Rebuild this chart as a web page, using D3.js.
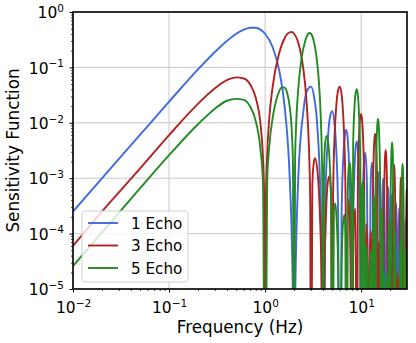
<!DOCTYPE html>
<html lang="en">
<head>
  <meta charset="UTF-8">
  <title>Sensitivity Function</title>
  <script src="https://d3js.org/d3.v7.min.js"></script>
  <style>
    body { margin: 0; background: #fff; }
    text { font-family: "DejaVu Sans", sans-serif; fill: #000; }
  </style>
</head>
<body>
  <div id="chart"></div>
  <script>

    // values (Z = null, below the axis)
    const Z = 1e-9;

    const seriesNames = ['1 Echo', '3 Echo', '5 Echo'];
    const seriesColors = ['#4169e1', '#b22222', '#228b22'];

    const freq1 = [0.01, 0.02, 0.05, 0.1, 0.2, 0.3, 0.4, 0.5, 0.6, 0.7, 0.8, 0.9, 1.0, 1.2, 1.4, 1.6, 1.8, 1.9, 1.95, 2.0,
      2.05, 2.2, 2.5, 2.75, 3.0, 3.25, 3.5, 3.8, 3.95, 4.0,
      4.25, 4.5, 4.75, 5, 5.25, 5.5, 5.75, 6,
      6.25, 6.5, 6.75, 7, 7.25, 7.5, 7.75, 8,
      8.25, 8.5, 8.75, 9, 9.25, 9.5, 9.75, 10,
      10.5, 10.75, 11, 11.25, 11.5, 12,
      12.5, 12.75, 13, 13.25, 13.5, 14,
      14.5, 14.75, 15, 15.25, 15.5, 16,
      16.5, 16.75, 17, 17.25, 17.5, 18,
      18.5, 18.75, 19, 19.25, 19.5, 20,
      20.5, 20.75, 21, 21.25, 21.5, 22,
      22.5, 22.75, 23, 23.25, 23.5, 24,
      24.5, 24.75, 25, 25.25, 25.5, 26,
      26.5, 26.75, 27, 27.25, 27.5, 28,
      28.5, 28.75, 29, 29.25, 29.5, 30];
    const sens1 = [2.5e-4, 9.9e-4, 6.1e-3, 0.024, 0.092, 0.19, 0.30, 0.405, 0.48, 0.52, 0.52, 0.475, 0.405, 0.23, 0.089, 0.019, 1.1e-3, 6.7e-5, 4e-6, Z,
      3.7e-6, 7.6e-4, 0.016, 0.039, 0.045, 0.028, 0.0083, 2.6e-4, 1e-6, Z,
      4.8e-4, 5.0e-3, 0.0131, 0.0162, 0.0107, 3.35e-3, 2.6e-4, Z,
      2e-4, 2.2e-3, 5.8e-3, 7.5e-3, 5.0e-3, 1.6e-3, 1.3e-4, Z,
      1.2e-4, 1.3e-3, 3.55e-3, 4.6e-3, 3.2e-3, 1.0e-3, 8.4e-5, Z,
      7.8e-4, 2.2e-3, 2.85e-3, 2.0e-3, 6.5e-4, Z,
      5.2e-4, 1.45e-3, 1.9e-3, 1.35e-3, 4.5e-4, Z,
      3.5e-4, 9.8e-4, 1.3e-3, 9.1e-4, 3.0e-4, Z,
      2.6e-4, 7.4e-4, 9.8e-4, 6.9e-4, 2.3e-4, Z,
      1.8e-4, 5.2e-4, 7e-4, 5e-4, 1.7e-4, Z,
      1.3e-4, 3.8e-4, 5.1e-4, 3.6e-4, 1.2e-4, Z,
      9.4e-5, 2.7e-4, 3.6e-4, 2.6e-4, 8.5e-5, Z,
      7.5e-5, 2.1e-4, 2.9e-4, 2.0e-4, 6.9e-5, Z,
      5.8e-5, 1.6e-4, 2.2e-4, 1.6e-4, 5.4e-5, Z,
      4.6e-5, 1.3e-4, 1.8e-4, 1.3e-4, 4.3e-5, Z];

    const freq3 = [0.01, 0.02, 0.05, 0.1, 0.2, 0.3, 0.4, 0.5, 0.6, 0.7, 0.8, 0.9, 0.95, 0.98, 1.0,
      1.02, 1.05, 1.1, 1.2, 1.4, 1.6, 1.8, 1.9, 2.0, 2.2, 2.4, 2.6, 2.8, 2.9, 2.95, 3.0,
      3.1, 3.2, 3.3, 3.5, 3.7, 3.85, 4.0,
      4.15, 4.3, 4.5, 4.7, 4.85, 5.0,
      5.1, 5.3, 5.5, 5.75, 6.0, 6.25, 6.5, 6.7, 6.9, 7.0,
      7.25, 7.5, 7.75, 8,
      8.25, 8.5, 8.75, 9,
      9.25, 9.5, 9.75, 10, 10.25, 10.5, 10.75, 11,
      11.25, 11.5, 11.75, 12,
      12.25, 12.5, 12.75, 13,
      13.25, 13.5, 13.75, 14, 14.25, 14.5, 14.75, 15,
      15.25, 15.5, 15.75, 16,
      16.25, 16.5, 16.75, 17,
      17.25, 17.5, 17.75, 18, 18.25, 18.5, 18.75, 19,
      19.25, 19.5, 19.75, 20,
      20.25, 20.5, 20.75, 21,
      21.25, 21.5, 21.75, 22, 22.25, 22.5, 22.75, 23,
      23.25, 23.5, 23.75, 24,
      24.25, 24.5, 24.75, 25,
      25.25, 25.5, 25.75, 26, 26.25, 26.5, 26.75, 27,
      27.25, 27.5, 27.75, 28,
      28.25, 28.5, 28.75, 29,
      29.25, 29.5, 29.75, 30];
    const sens3 = [6.0e-5, 2.5e-4, 1.5e-3, 6.0e-3, 0.022, 0.042, 0.059, 0.066, 0.063, 0.049, 0.028, 0.0086, 0.0023, 3.9e-4, Z,
      4.1e-4, 2.6e-3, 0.011, 0.046, 0.18, 0.34, 0.43, 0.435, 0.405, 0.29, 0.15, 0.052, 0.0085, 0.0016, 3.3e-4, Z,
      7.3e-4, 1.8e-3, 2.3e-3, 1.4e-3, 2.8e-4, 2.0e-5, Z,
      1.7e-5, 2.1e-4, 8.6e-4, 1.1e-3, 5.5e-4, Z,
      5.1e-4, 6.3e-3, 0.0195, 0.0387, 0.045, 0.0328, 0.014, 3.9e-3, 2.8e-4, Z,
      4.3e-4, 3.1e-4, 3.3e-5, Z,
      2.8e-5, 2.3e-4, 2.8e-4, Z,
      1.2e-3, 5.7e-3, 0.0119, 0.0143, 0.0107, 4.7e-3, 8.7e-4, Z,
      1.5e-4, 1.1e-4, 1.2e-5, Z,
      1.1e-5, 9e-5, 1.1e-4, Z,
      4.9e-4, 2.4e-3, 5.2e-3, 6.3e-3, 4.8e-3, 2.1e-3, 4.0e-4, Z,
      7e-5, 5.2e-5, 6e-6, Z,
      5e-6, 4.3e-5, 5.5e-5, Z,
      2.4e-4, 1.2e-3, 2.6e-3, 3.2e-3, 2.5e-3, 1.1e-3, 2.1e-4, Z,
      3.7e-5, 2.8e-5, 3e-6, Z,
      2.8e-6, 2.3e-5, 3.0e-5, Z,
      1.3e-4, 6.7e-4, 1.4e-3, 1.75e-3, 1.35e-3, 6.1e-4, 1.1e-4, Z,
      2.1e-5, 1.5e-5, 2e-6, Z,
      1.6e-6, 1.3e-5, 1.7e-5, Z,
      7.7e-5, 3.9e-4, 8.3e-4, 1.03e-3, 8.0e-4, 3.6e-4, 6.9e-5, Z,
      1.25e-5, 9.4e-6, 1e-6, Z,
      1e-6, 8.4e-6, 1.1e-5, Z,
      5e-5, 2.6e-4, 5.5e-4, 6.7e-4];

    const freq5 = [0.01, 0.02, 0.05, 0.1, 0.2, 0.3, 0.4, 0.5, 0.6, 0.7, 0.8, 0.9, 0.95, 1.0,
      1.05, 1.1, 1.2, 1.3, 1.4, 1.5, 1.6, 1.7, 1.8, 1.9, 1.95, 2.0,
      2.05, 2.1, 2.2, 2.4, 2.6, 2.8, 2.9, 3.0, 3.2, 3.4, 3.6, 3.8, 3.9, 3.95, 4.0,
      4.1, 4.25, 4.4, 4.6, 4.8, 4.9, 5.0,
      5.2, 5.35, 5.5, 5.75, 6.0,
      6.25, 6.5, 6.7, 6.85, 7.0,
      7.25, 7.5, 7.65, 7.8, 7.9, 8.0,
      8.25, 8.5, 8.75, 9, 9.25, 9.5, 9.75, 10,
      10.25, 10.45, 10.7, 11,
      11.25, 11.4, 11.7, 12,
      12.3, 12.6, 12.75, 13,
      13.3, 13.55, 13.75, 14,
      14.25, 14.5, 14.75, 15, 15.25, 15.5, 15.75, 16,
      16.25, 16.45, 16.7, 17,
      17.25, 17.4, 17.7, 18,
      18.3, 18.6, 18.75, 19,
      19.3, 19.55, 19.75, 20,
      20.25, 20.5, 20.75, 21, 21.25, 21.5, 21.75, 22,
      22.25, 22.45, 22.7, 23,
      23.25, 23.4, 23.7, 24,
      24.3, 24.6, 24.75, 25,
      25.3, 25.55, 25.75, 26,
      26.25, 26.5, 26.75, 27, 27.25, 27.5, 27.75, 28,
      28.25, 28.45, 28.7, 29,
      29.25, 29.4, 29.7, 30];
    const sens5 = [2.6e-5, 1.05e-4, 6.6e-4, 2.6e-3, 9.4e-3, 0.018, 0.025, 0.027, 0.026, 0.0195, 0.0106, 3.0e-3, 8e-4, Z,
      8.4e-4, 3.4e-3, 0.0125, 0.025, 0.037, 0.044, 0.043, 0.034, 0.020, 6.3e-3, 1.7e-3, Z,
      2.0e-3, 8.5e-3, 0.036, 0.15, 0.29, 0.40, 0.418, 0.405, 0.307, 0.172, 0.067, 0.0121, 2.45e-3, 5.4e-4, Z,
      1.36e-3, 4.8e-3, 5.8e-3, 3.5e-3, 8.0e-4, 1.7e-4, Z,
      2.6e-4, 3.5e-4, 2.4e-4, 2.7e-5, Z,
      2.2e-5, 1.7e-4, 2.2e-4, 1.0e-4, Z,
      5.7e-4, 1.8e-3, 1.9e-3, 1.09e-3, 3.7e-4, Z,
      3.9e-3, 0.0176, 0.0344, 0.0405, 0.0308, 0.014, 2.8e-3, Z,
      7.1e-4, 8.7e-4, 3.3e-4, Z,
      5.8e-5, 6.2e-5, 1.0e-5, Z,
      9e-6, 4.9e-5, 4.3e-5, Z,
      1.9e-4, 4.6e-4, 3.5e-4, Z,
      1.04e-3, 4.8e-3, 9.7e-3, 0.0117, 9.0e-3, 4.2e-3, 8.6e-4, Z,
      2.2e-4, 2.8e-4, 1.06e-4, Z,
      1.9e-5, 2.1e-5, 3.4e-6, Z,
      3.1e-6, 1.8e-5, 1.6e-5, Z,
      7e-5, 1.7e-4, 1.3e-4, Z,
      3.8e-4, 1.8e-3, 3.6e-3, 4.4e-3, 3.4e-3, 1.6e-3, 3.3e-4, Z,
      8.7e-5, 1.1e-4, 4.2e-5, Z,
      7.7e-6, 8.5e-6, 1.4e-6, Z,
      1.4e-6, 7.4e-6, 6.5e-6, Z,
      3e-5, 7.4e-5, 5.7e-5, Z,
      1.5e-4, 7.2e-4, 1.5e-3, 1.8e-3, 1.4e-3, 6.7e-4, 1.4e-4, Z,
      4.1e-5, 5.2e-5, 2e-5, Z,
      3.8e-6, 4.1e-6, 1e-6, Z];

    const xTicks = [0.01, 0.1, 1, 10];
    const xTickExp = ['\u22122', '\u22121', '0', '1'];
    const yTicks = [1e-5, 1e-4, 1e-3, 1e-2, 1e-1, 1];
    const yTickExp = ['\u22125', '\u22124', '\u22123', '\u22122', '\u22121', '0'];

    const width = 416, height = 343;
    const plotLeft = 73, plotRight = 407, plotTop = 12, plotBottom = 289;

    const svg = d3.select('#chart').append('svg')
      .attr('width', width)
      .attr('height', height);

    const x = d3.scaleLog().domain([0.01, 30]).range([plotLeft, plotRight]);
    const y = d3.scaleLog().domain([1e-5, 1]).range([plotBottom, plotTop]);

    // grid
    svg.append('g').selectAll('line')
      .data(xTicks)
      .enter().append('line')
      .attr('x1', d => x(d)).attr('x2', d => x(d))
      .attr('y1', plotTop).attr('y2', plotBottom)
      .attr('stroke', '#c8c8c8').attr('stroke-width', 1);
    svg.append('g').selectAll('line')
      .data(yTicks)
      .enter().append('line')
      .attr('x1', plotLeft).attr('x2', plotRight)
      .attr('y1', d => y(d)).attr('y2', d => y(d))
      .attr('stroke', '#c8c8c8').attr('stroke-width', 1);

    // curves
    svg.append('clipPath').attr('id', 'clip')
      .append('rect')
      .attr('x', plotLeft).attr('y', plotTop)
      .attr('width', plotRight - plotLeft).attr('height', plotBottom - plotTop);

    const line = d3.line()
      .x(d => x(d[0]))
      .y(d => y(d[1]))
      .curve(d3.curveMonotoneX);

    const series = [
      d3.zip(freq1, sens1),
      d3.zip(freq3, sens3),
      d3.zip(freq5, sens5)
    ];

    svg.append('g').attr('clip-path', 'url(#clip)')
      .selectAll('path')
      .data(series)
      .enter().append('path')
      .attr('d', line)
      .attr('fill', 'none')
      .attr('stroke', (d, i) => seriesColors[i])
      .attr('stroke-width', 1.9)
      .attr('stroke-linejoin', 'round');

    // minor ticks
    const xMinor = [];
    [0.01, 0.1, 1, 10].forEach(b => d3.range(2, 10).forEach(m => { if (b * m < 30) xMinor.push(b * m); }));
    const yMinor = [];
    [1e-5, 1e-4, 1e-3, 1e-2, 1e-1].forEach(b => d3.range(2, 10).forEach(m => yMinor.push(b * m)));

    svg.append('g')
      .attr('transform', `translate(0,${plotBottom})`)
      .call(d3.axisBottom(x).tickValues(xMinor).tickSize(2).tickFormat(''))
      .call(g => g.select('.domain').remove())
      .selectAll('line').attr('stroke-width', 0.7);

    svg.append('g')
      .attr('transform', `translate(${plotLeft},0)`)
      .call(d3.axisLeft(y).tickValues(yMinor).tickSize(2).tickFormat(''))
      .call(g => g.select('.domain').remove())
      .selectAll('line').attr('stroke-width', 0.7);

    // major ticks + labels
    const xAxis = svg.append('g')
      .attr('transform', `translate(0,${plotBottom})`)
      .call(d3.axisBottom(x).tickValues(xTicks).tickSize(3.5).tickFormat(''))
      .call(g => g.select('.domain').remove());
    xAxis.selectAll('line').attr('stroke-width', 1);
    xAxis.selectAll('.tick text')
      .attr('y', 24).attr('dy', null)
      .attr('font-size', 15.5)
      .attr('text-anchor', 'middle')
      .each(function (d, i) {
        const t = d3.select(this);
        t.text('10');
        t.append('tspan').attr('font-size', 10.5).attr('dy', -6.3).text(xTickExp[i]);
      });

    const yAxis = svg.append('g')
      .attr('transform', `translate(${plotLeft},0)`)
      .call(d3.axisLeft(y).tickValues(yTicks).tickSize(3.5).tickFormat(''))
      .call(g => g.select('.domain').remove());
    yAxis.selectAll('line').attr('stroke-width', 1);
    yAxis.selectAll('.tick text')
      .attr('x', -9).attr('dy', 5.6)
      .attr('font-size', 15.5)
      .attr('text-anchor', 'end')
      .each(function (d, i) {
        const t = d3.select(this);
        t.text('10');
        t.append('tspan').attr('font-size', 10.5).attr('dy', -6.3).text(yTickExp[i]);
      });

    // frame
    svg.append('rect')
      .attr('x', plotLeft).attr('y', plotTop)
      .attr('width', plotRight - plotLeft).attr('height', plotBottom - plotTop)
      .attr('fill', 'none').attr('stroke', '#000').attr('stroke-width', 1.6);

    // axis titles
    svg.append('text')
      .attr('x', (plotLeft + plotRight) / 2).attr('y', 333)
      .attr('text-anchor', 'middle')
      .attr('font-size', 16.8)
      .text('Frequency (Hz)');

    svg.append('text')
      .attr('transform', `translate(19,${(plotTop + plotBottom) / 2}) rotate(-90)`)
      .attr('text-anchor', 'middle')
      .attr('font-size', 16.8)
      .text('Sensitivity Function');

    // legend
    const legend = svg.append('g').attr('transform', 'translate(82,211)');
    legend.append('rect')
      .attr('width', 106).attr('height', 71).attr('rx', 3)
      .attr('fill', '#fff').attr('fill-opacity', 0.8)
      .attr('stroke', '#d0d0d0').attr('stroke-width', 1);

    const item = legend.selectAll('.item')
      .data(seriesNames)
      .enter().append('g')
      .attr('class', 'item')
      .attr('transform', (d, i) => `translate(0,${12 + i * 22.5})`);
    item.append('line')
      .attr('x1', 6).attr('x2', 36)
      .attr('stroke', (d, i) => seriesColors[i])
      .attr('stroke-width', 1.9);
    item.append('text')
      .attr('x', 49).attr('y', 5.5)
      .attr('font-size', 15.2)
      .text(d => d);

  </script>
</body>
</html>
